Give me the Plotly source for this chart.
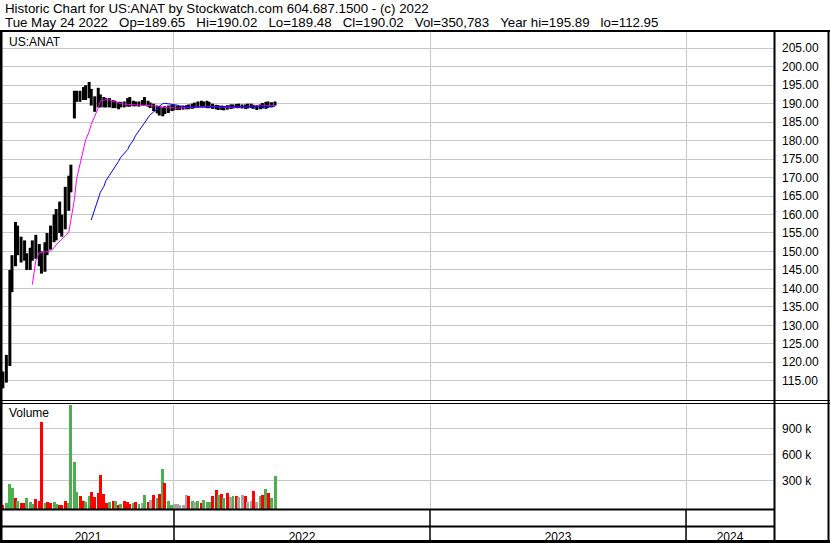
import pandas as pd
import plotly.graph_objects as go

# ---------------- data ----------------
symbol = "US:ANAT"
title_line1 = "Historic Chart for US:ANAT by Stockwatch.com 604.687.1500 - (c) 2022"
last_day = "Tue May 24 2022"
last_op, last_hi, last_lo, last_cl, last_vol = 189.65, 190.02, 189.48, 190.02, 350783
year_hi, year_lo = 195.89, 112.95

first_date = "2021-04-30"
last_date = "2022-05-24"
days_per_bar = 3

price_low = [112.95, 114.5, 119, 139, 146, 149, 147, 147.5, 145, 145,
             147.5, 148, 146, 144, 144.5, 149, 150.5, 152.5, 153, 155,
             154, 156, 161, 166, 186, 190.5, 190.5, 191, 191, 191.5,
             189.5, 187.8, 189, 189, 189, 189, 189, 188.8, 188.8, 188.5,
             189, 189, 189.2, 189.2, 189.3, 189.3, 189.2, 189.5, 189.5, 189.2,
             188.8, 188, 187.4, 186.8, 186.6, 187.2, 187.5, 188, 188.2, 188.3,
             188.3, 188.4, 188.5, 188.5, 188.6, 188.8, 188.9, 189, 189, 188.8,
             188.8, 188.6, 188.5, 188.3, 188.3, 188.2, 188.4, 188.6, 188.7, 188.8,
             188.8, 188.7, 188.6, 188.7, 188.8, 188.6, 188.3, 188.5, 188.7, 188.6,
             188.9, 189, 189.48]
price_high = [117.5, 122, 145, 149, 158, 157, 154, 153, 149.5, 151,
              153, 154.5, 152, 150, 152.5, 155, 157, 160, 161.5, 163.5,
              160, 167.5, 170.5, 173.5, 193.5, 193.5, 193.5, 194.5, 195, 195.89,
              194, 192, 194.3, 192.5, 191.8, 191.5, 191.5, 191, 190.8, 190.5,
              190.5, 190.6, 191.5, 191.8, 190.8, 190.6, 190.6, 191, 191.8, 190.8,
              190.3, 190, 189.5, 189.3, 189, 189.3, 189.5, 189.7, 189.6, 189.5,
              189.4, 189.5, 189.6, 189.8, 190, 190.3, 190.6, 190.8, 190.6, 190.8,
              190.5, 190, 189.7, 189.6, 189.5, 189.4, 189.6, 189.8, 189.8, 189.9,
              190, 189.8, 189.8, 190, 190, 189.7, 189.6, 189.8, 190.2, 190.5,
              190.6, 190.4, 190.6]
ma_fast = [None] * 10 + [
    141, 147.5, 149.7, 149.7, 149.8, 149.9, 150.2, 151, 151.8, 152.6,
    153.3, 154.2, 155.2, 158.5, 164, 169.5, 173.8, 177.3, 180.2, 182.4,
    184.4, 186.6, 188.8, 190.8, 191.1, 191.1, 191, 190.8, 190.5, 190.2,
    190, 189.9, 189.8, 189.8, 189.7, 189.7, 189.6, 189.6, 189.6, 189.6,
    189.5, 189.4, 189.3, 189.2, 189.1, 189.0, 188.9, 188.9, 188.8, 188.8,
    188.8, 188.8, 188.8, 188.9, 189, 189.1, 189.2, 189.2, 189.3, 189.3,
    189.3, 189.3, 189.2, 189.1, 189.1, 189.0, 189.0, 189.0, 189.1, 189.2,
    189.2, 189.2, 189.2, 189.3, 189.3, 189.3, 189.3, 189.2, 189.2, 189.3,
    189.4, 189.5, 189.5]
ma_slow = [None] * 30 + [
    158.5, 161.5, 164.5, 166, 167.6, 169.2, 170.6, 172, 173.2, 174.4,
    175.5, 176.5, 177.6, 178.8, 180.1, 181.3, 182.6, 183.8, 184.9, 186,
    187, 187.8, 188.5, 189.3, 190, 190.1, 190, 189.9, 189.8, 189.6,
    189.4, 189.2, 189.1, 189.1, 189.1, 189.1, 189.1, 189.1, 189.0, 189.0,
    189.0, 189.0, 189.0, 189.0, 189.0, 189.0, 189.0, 189.0, 189.1, 189.1,
    189.1, 189.1, 189.1, 189.1, 189.1, 189.1, 189.2, 189.2, 189.2, 189.2,
    189.2, 189.3, 189.3]
volume_k = [15, 34, 257, 207, 100, 62, 42, 34, 100, 53,
            27, 80, 62, 976, 34, 53, 34, 53, 27, 15,
            20, 65, 42, 1180, 515, 169, 119, 62, 53, 119,
            169, 111, 150, 361, 142, 34, 53, 62, 62, 15,
            27, 62, 53, 27, 34, 53, 27, 42, 130, 53,
            73, 130, 92, 142, 430, 273, 65, 20, 30, 25,
            20, 20, 130, 119, 60, 55, 65, 40, 73, 55,
            50, 119, 188, 130, 142, 100, 150, 105, 119, 119,
            110, 130, 119, 50, 65, 180, 50, 119, 130, 200,
            150, 100, 351]
# r = down day, g = up day, n = unchanged
volume_dir = ("rgggrgrrgg" "grrrgrrggr" "rrggggrrgg" "rrrrrrgrgr"
              "grrrgrgngr" "nrgrgrggnn" "nnnrgngrgg" "grrgrgrngr"
              "nnrnnrngrg" "rgg")

price_ticks = list(range(115, 206, 5))
volume_ticks = [300000, 600000, 900000]
volume_tick_text = ["300 k", "600 k", "900 k"]
year_starts = ["2022-01-01", "2023-01-01", "2024-01-01"]
year_labels = ["2021", "2022", "2023", "2024"]

# ---------------- geometry ----------------
W, H = 830, 543
PL, PR, PT, PB = 2, 774, 32, 509          # plot area in pixels
def fx(px):
    return (px - PL) / (PR - PL)
def fy(py):
    return (PB - py) / (PB - PT)

x_start = pd.Timestamp("2021-04-30 19:00")
x_end = pd.Timestamp("2024-05-05 10:00")
price_range = [109.79, 209.41]
vol_range = [-31154, 1168846]

days = pd.bdate_range(first_date, last_date)[::days_per_bar]
n = min(len(days), len(price_low))
days = days[:n]
centers = days + pd.Timedelta(days=2)

seg_x, seg_y = [], []
for c, lo, hi in zip(centers, price_low[:n], price_high[:n]):
    seg_x += [c, c, None]
    seg_y += [lo, hi, None]

dir_colors = {"g": "#4CAF50", "r": "#FF0000", "n": "#A6A6A6"}
bar_colors = [dir_colors[d] for d in volume_dir[:n]]
vol_vals = [v * 1000 for v in volume_k[:n]]

font_family = "Liberation Sans, Arial, sans-serif"
grid = "#C8C8C8"

fig = go.Figure()
fig.add_trace(go.Scatter(x=seg_x, y=seg_y, mode="lines",
                         line=dict(color="black", width=3),
                         xaxis="x", yaxis="y", hoverinfo="skip", showlegend=False))
fig.add_trace(go.Scatter(x=list(centers), y=ma_fast[:n], mode="lines",
                         line=dict(color="#FF00FF", width=1),
                         xaxis="x", yaxis="y", showlegend=False))
fig.add_trace(go.Scatter(x=list(centers), y=ma_slow[:n], mode="lines",
                         line=dict(color="#0000FF", width=1),
                         xaxis="x", yaxis="y", showlegend=False))
fig.add_trace(go.Bar(x=list(days), y=[v - vol_range[0] for v in vol_vals],
                     base=vol_range[0], customdata=vol_vals,
                     hovertemplate="%{x|%b %d %Y}: %{customdata:,}<extra></extra>",
                     width=4.2 * 86400000, offset=0,
                     marker=dict(color=bar_colors, line=dict(width=0)),
                     xaxis="x2", yaxis="y2", showlegend=False))

boundaries = [x_start] + [pd.Timestamp(d) for d in year_starts] + [x_end]
mids = [boundaries[i] + (boundaries[i + 1] - boundaries[i]) / 2 for i in range(4)]

tickfont = dict(family=font_family, size=12, color="#000000")
fig.update_layout(
    width=W, height=H,
    margin=dict(l=PL, r=W - PR, t=PT, b=H - PB, pad=0, autoexpand=False),
    paper_bgcolor="white", plot_bgcolor="white",
    bargap=0,
    xaxis=dict(domain=[0, 1], anchor="y", range=[x_start, x_end], automargin=False,
               tickvals=year_starts, showticklabels=False, ticks="",
               showgrid=True, gridcolor=grid, gridwidth=1, zeroline=False,
               showline=False),
    yaxis=dict(domain=[fy(400), 1], anchor="x", side="right", automargin=False,
               range=price_range, tickvals=price_ticks,
               ticktext=[f"{v:.2f}" for v in price_ticks],
               showgrid=True, gridcolor=grid, gridwidth=1, zeroline=False,
               ticks="", ticklabelstandoff=7, tickfont=tickfont, showline=False),
    xaxis2=dict(domain=[0, 1], anchor="y2", range=[x_start, x_end], automargin=False,
                tickvals=mids, ticktext=year_labels, ticks="",
                ticklabelstandoff=19, tickfont=tickfont,
                showgrid=False, zeroline=False, showline=False,
                minor=dict(tickmode="array", tickvals=year_starts, showgrid=True,
                           gridcolor=grid, gridwidth=1, ticks="")),
    yaxis2=dict(domain=[0, fy(405)], anchor="x2", side="right", automargin=False,
                range=vol_range, tickvals=volume_ticks, ticktext=volume_tick_text,
                showgrid=True, gridcolor=grid, gridwidth=1, zeroline=False,
                ticks="", ticklabelstandoff=7, tickfont=tickfont, showline=False),
)

sep = "\u00a0\u00a0\u00a0"
title_line2 = sep.join([
    last_day, f"Op={last_op:.2f}", f"Hi={last_hi:.2f}", f"Lo={last_lo:.2f}",
    f"Cl={last_cl:.2f}", f"Vol={last_vol:,}", f"Year hi={year_hi:.2f}",
    f"lo={year_lo:.2f}"])

def note(text, px, py, size):
    fig.add_annotation(text=text, xref="paper", yref="paper", x=fx(px), y=fy(py),
                       xanchor="left", yanchor="middle", showarrow=False,
                       font=dict(family=font_family, size=size, color="black"))

note(title_line1, 3, 8, 13.3)
note(title_line2, 3, 22, 13.3)
note(symbol, 7, 42, 12)
note("Volume", 7, 413, 12)

shapes = []
def hline(py, x0, x1, w):
    shapes.append(dict(type="line", xref="paper", yref="paper", x0=fx(x0), x1=fx(x1),
                       y0=fy(py), y1=fy(py), line=dict(color="black", width=w)))
def vline(px, y0, y1, w):
    shapes.append(dict(type="line", xref="paper", yref="paper", x0=fx(px), x1=fx(px),
                       y0=fy(y0), y1=fy(y1), line=dict(color="black", width=w)))

hline(31, 0, W, 2)
hline(541.5, 0, W, 3)
vline(1, 30, H, 3)
vline(828.5, 30, H, 2)
vline(774.5, 30, H, 2)
hline(400.5, 0, W, 1)
hline(403.5, 0, W, 1)
hline(509.5, 0, 774, 2)
hline(526.5, 0, 774, 2)
for d in year_starts:
    shapes.append(dict(type="line", xref="x2", yref="paper", x0=d, x1=d,
                       y0=fy(510), y1=fy(541), line=dict(color="black", width=1.5)))
fig.update_layout(shapes=shapes)

page_css = ("document.body.style.margin='0';document.body.style.padding='0';"
            "document.body.style.overflow='hidden';")
fig.write_html("out.html", config={"displayModeBar": False}, post_script=page_css)
